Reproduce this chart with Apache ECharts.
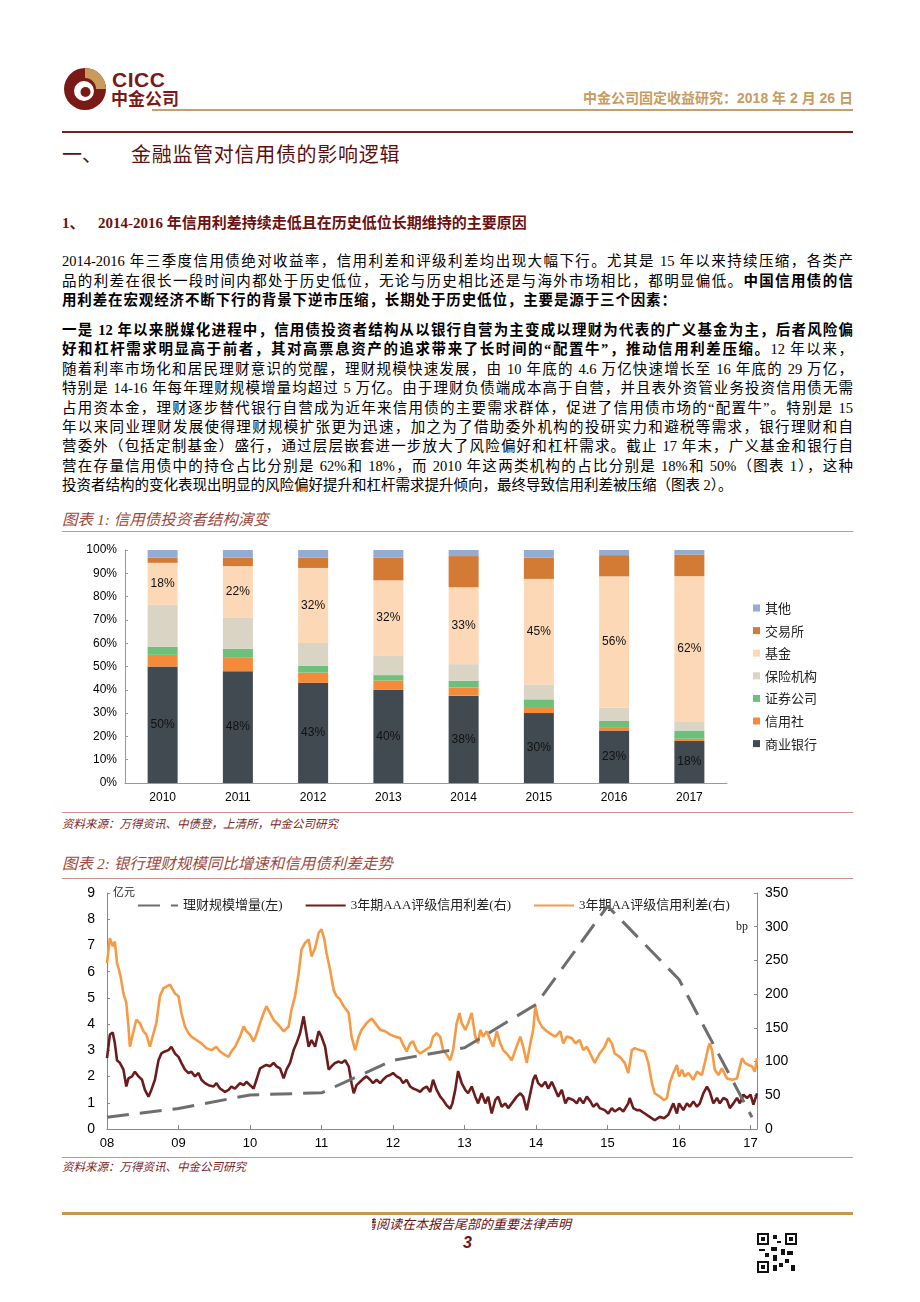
<!DOCTYPE html>
<html><head><meta charset="utf-8">
<script src="https://cdn.jsdelivr.net/npm/echarts@6/dist/echarts.min.js"></script>
<style>
body{margin:0;background:#fff;width:920px;height:1302px;position:relative;overflow:hidden;font-family:"Liberation Serif","Noto Sans CJK SC",serif;}
.abs{position:absolute;}
.ln{position:absolute;left:62px;width:791px;height:20px;line-height:20px;font-size:14.5px;color:#000;text-align:justify;text-align-last:justify;}
.ln.last{text-align-last:left;}
.ln b{font-weight:bold;}
.rule{position:absolute;left:62px;width:791px;height:0;}
.ttl{position:absolute;left:62px;font-style:italic;font-size:15.5px;color:#9a4a3c;font-family:"Liberation Serif","Noto Sans CJK SC",serif;}
.src{position:absolute;left:62px;font-style:italic;font-size:11.5px;color:#7a2626;}
</style></head>
<body>
<!-- header -->
<svg class="abs" style="left:63px;top:66px" width="46" height="46" viewBox="0 0 46 46">
  <circle cx="22" cy="23" r="21" fill="#7a1a16"/>
  <path d="M22 2 A21 21 0 0 1 43 23 L33 23 A11 11 0 0 0 22 12 Z" fill="#c99a5a"/>
  <circle cx="21" cy="25" r="10" fill="#fff"/>
  <circle cx="22.5" cy="26" r="5" fill="#7a1a16"/>
</svg>
<div class="abs" style="left:112px;top:68px;font-family:'Liberation Sans',sans-serif;font-weight:bold;font-size:21px;color:#7a1a16;letter-spacing:0.5px">CICC</div>
<div class="abs" style="left:111px;top:88px;font-family:'Noto Sans CJK SC';font-weight:bold;font-size:17px;line-height:20px;color:#7a1a16">中金公司</div>
<div class="abs" style="right:67px;top:88px;font-family:'Liberation Sans','Noto Sans CJK SC';font-weight:bold;font-size:14px;line-height:20px;color:#c79a5e">中金公司固定收益研究：2018 年 2 月 26 日</div>
<div class="abs" style="left:152px;top:109px;width:701px;height:2px;background:#c9a064"></div>
<div class="abs" style="left:62px;top:131px;width:791px;height:2px;background:#7a1f1c"></div>
<div class="abs" style="left:62px;top:141px;font-family:'Noto Sans CJK SC';font-size:20px;line-height:26px;color:#5a1010">一、</div>
<div class="abs" style="left:131px;top:141px;font-family:'Noto Sans CJK SC';font-size:20px;line-height:26px;color:#5a1010;letter-spacing:0.7px">金融监管对信用债的影响逻辑</div>
<div class="abs" style="left:62px;top:213px;font-weight:bold;font-size:15px;line-height:20px;color:#6b1111">1、</div>
<div class="abs" style="left:98px;top:213px;font-weight:bold;font-size:15px;line-height:20px;color:#6b1111">2014-2016 年信用利差持续走低且在历史低位长期维持的主要原因</div>

<!-- paragraph 1 -->
<div class="ln" style="top:251px">2014-2016 年三季度信用债绝对收益率，信用利差和评级利差均出现大幅下行。尤其是 15 年以来持续压缩，各类产</div>
<div class="ln" style="top:270.5px">品的利差在很长一段时间内都处于历史低位，无论与历史相比还是与海外市场相比，都明显偏低。<b>中国信用债的信</b></div>
<div class="ln" style="top:290px;width:614px"><b>用利差在宏观经济不断下行的背景下逆市压缩，长期处于历史低位，主要是源于三个因素：</b></div>

<!-- paragraph 2 -->
<div class="ln" style="top:320px"><b>一是 12 年以来脱媒化进程中，信用债投资者结构从以银行自营为主变成以理财为代表的广义基金为主，后者风险偏</b></div>
<div class="ln" style="top:339.4px"><b>好和杠杆需求明显高于前者，其对高票息资产的追求带来了长时间的“配置牛”，推动信用利差压缩。</b>12 年以来，</div>
<div class="ln" style="top:358.8px">随着利率市场化和居民理财意识的觉醒，理财规模快速发展，由 10 年底的 4.6 万亿快速增长至 16 年底的 29 万亿，</div>
<div class="ln" style="top:378.2px">特别是 14-16 年每年理财规模增量均超过 5 万亿。由于理财负债端成本高于自营，并且表外资管业务投资信用债无需</div>
<div class="ln" style="top:397.6px">占用资本金，理财逐步替代银行自营成为近年来信用债的主要需求群体，促进了信用债市场的“配置牛”。特别是 15</div>
<div class="ln" style="top:417px">年以来同业理财发展使得理财规模扩张更为迅速，加之为了借助委外机构的投研实力和避税等需求，银行理财和自</div>
<div class="ln" style="top:436.4px">营委外（包括定制基金）盛行，通过层层嵌套进一步放大了风险偏好和杠杆需求。截止 17 年末，广义基金和银行自</div>
<div class="ln" style="top:455.8px">营在存量信用债中的持仓占比分别是 62%和 18%，而 2010 年这两类机构的占比分别是 18%和 50%（图表 1），这种</div>
<div class="ln last" style="top:475.2px">投资者结构的变化表现出明显的风险偏好提升和杠杆需求提升倾向，最终导致信用利差被压缩（图表 2）。</div>

<!-- chart 1 frame -->
<div class="ttl" style="top:509px;line-height:22px">图表 1: 信用债投资者结构演变</div>
<div class="rule" style="top:531px;border-top:1px solid #c89288"></div>
<div id="c1" class="abs" style="left:62px;top:540px;width:800px;height:270px"></div>
<div class="rule" style="top:812px;border-top:1px solid #c89288"></div>
<div class="src" style="top:816px;line-height:16px">资料来源：万得资讯、中债登，上清所，中金公司研究</div>

<!-- chart 2 frame -->
<div class="ttl" style="top:853px;line-height:22px">图表 2: 银行理财规模同比增速和信用债利差走势</div>
<div class="rule" style="top:878px;border-top:1px solid #c89288"></div>
<div id="c2" class="abs" style="left:62px;top:880px;width:800px;height:274px"></div>
<div class="rule" style="top:1157px;border-top:1px solid #c89288"></div>
<div class="src" style="top:1159px;line-height:16px">资料来源：万得资讯、中金公司研究</div>

<!-- footer -->
<div class="abs" style="left:62px;top:1212px;width:791px;height:3px;background:#c9964e"></div>
<div class="abs" style="left:372px;top:1217px;font-style:italic;font-size:13px;line-height:16px;color:#6b1111;white-space:nowrap"><span style="display:inline-block;width:4px;overflow:hidden;vertical-align:top"><span style="display:inline-block;margin-left:-9px">请</span></span>阅读在本报告尾部的重要法律声明</div>
<div class="abs" style="left:463px;top:1233px;font-family:'Liberation Sans';font-style:italic;font-weight:bold;font-size:16px;line-height:20px;color:#6b1111">3</div>
<svg class="abs" style="left:757px;top:1233px" width="40" height="40" viewBox="0 0 20 20">
  <rect width="20" height="20" fill="#fff"/>
  <g fill="#111">
    <rect x="0" y="0" width="6" height="6"/><rect x="14" y="0" width="6" height="6"/><rect x="0" y="14" width="6" height="6"/>
  </g>
  <g fill="#fff">
    <rect x="1" y="1" width="4" height="4"/><rect x="15" y="1" width="4" height="4"/><rect x="1" y="15" width="4" height="4"/>
  </g>
  <g fill="#111">
    <rect x="2" y="2" width="2" height="2"/><rect x="16" y="2" width="2" height="2"/><rect x="2" y="16" width="2" height="2"/>
    <rect x="8" y="1" width="2" height="2"/><rect x="10" y="4" width="2" height="1"/><rect x="7" y="7" width="3" height="2"/>
    <rect x="12" y="8" width="2" height="3"/><rect x="1" y="8" width="3" height="1"/><rect x="4" y="10" width="2" height="2"/>
    <rect x="8" y="11" width="2" height="3"/><rect x="15" y="9" width="3" height="2"/><rect x="11" y="15" width="2" height="2"/>
    <rect x="14" y="13" width="2" height="2"/><rect x="17" y="16" width="2" height="3"/><rect x="8" y="16" width="2" height="3"/>
  </g>
</svg>

<script>
// ---------- Chart 1 data ----------
const years1 = ['2010','2011','2012','2013','2014','2015','2016','2017'];
const bank       = [50, 48, 43, 40, 37.5, 30, 22.5, 18];
const creditCoop = [5, 6, 4.4, 4, 3.5, 2.6, 1.5, 1];
const securities = [3.5, 3.6, 2.9, 2.3, 2.9, 3.3, 2.6, 3.5];
const insurance  = [18, 13.5, 9.8, 8.5, 7.1, 6.4, 5.8, 4];
const funds      = [18, 22, 32.2, 32.2, 33, 45.3, 56.3, 62.3];
const exchange   = [2.3, 3.6, 4.5, 9.8, 13.4, 9.2, 9.1, 9.3];
const others     = [3.2, 3.3, 3.2, 3.2, 2.6, 3.2, 2.2, 1.9];
const names1 = ['商业银行','信用社','证券公司','保险机构','基金','交易所','其他'];

// ---------- Chart 2 data ----------
const xTicks2 = ['08','09','10','11','12','13','14','15','16','17'];
const wmpIncrease = [[2008,0.45],[2009,0.78],[2010,1.3],[2011,1.38],[2012,2.62],[2013,3.1],[2014,4.75],[2015,8.5],[2016,5.7],[2017.02,0.45]];
const aaaSpread = [[2008.00,105],[2008.04,140],[2008.08,143],[2008.11,127],[2008.14,102],[2008.18,98],[2008.23,88],[2008.27,63],[2008.30,75],[2008.35,78],[2008.39,85],[2008.44,78],[2008.49,73],[2008.53,58],[2008.58,48],[2008.62,58],[2008.67,73],[2008.72,102],[2008.76,112],[2008.81,115],[2008.86,117],[2008.90,122],[2008.95,112],[2009.00,107],[2009.04,98],[2009.09,88],[2009.14,83],[2009.18,85],[2009.23,78],[2009.28,83],[2009.32,73],[2009.37,68],[2009.42,65],[2009.49,63],[2009.53,68],[2009.58,60],[2009.65,55],[2009.70,58],[2009.74,63],[2009.79,60],[2009.86,68],[2009.91,65],[2009.95,70],[2010.00,65],[2010.05,60],[2010.09,73],[2010.14,90],[2010.19,93],[2010.23,95],[2010.28,93],[2010.33,98],[2010.37,93],[2010.42,90],[2010.47,75],[2010.51,88],[2010.56,98],[2010.61,117],[2010.65,127],[2010.70,142],[2010.75,167],[2010.78,147],[2010.82,122],[2010.86,132],[2010.91,122],[2010.96,145],[2011.00,137],[2011.05,122],[2011.10,88],[2011.14,93],[2011.19,98],[2011.24,100],[2011.28,98],[2011.33,102],[2011.38,93],[2011.42,68],[2011.45,53],[2011.49,65],[2011.54,70],[2011.59,75],[2011.63,78],[2011.68,73],[2011.72,68],[2011.77,73],[2011.82,68],[2011.86,73],[2011.91,78],[2011.96,80],[2012.00,83],[2012.05,78],[2012.10,75],[2012.14,68],[2012.19,73],[2012.24,63],[2012.28,60],[2012.33,58],[2012.38,55],[2012.42,60],[2012.47,63],[2012.52,55],[2012.56,73],[2012.61,58],[2012.66,48],[2012.70,43],[2012.75,35],[2012.80,30],[2012.83,38],[2012.87,58],[2012.91,86],[2012.96,68],[2013.01,58],[2013.05,53],[2013.10,63],[2013.15,48],[2013.19,38],[2013.24,53],[2013.29,38],[2013.33,48],[2013.38,23],[2013.43,43],[2013.47,48],[2013.52,33],[2013.57,38],[2013.61,31],[2013.66,38],[2013.73,48],[2013.78,53],[2013.82,48],[2013.87,28],[2013.92,53],[2013.96,73],[2013.99,80],[2014.03,68],[2014.08,63],[2014.13,70],[2014.17,60],[2014.22,70],[2014.27,58],[2014.31,48],[2014.36,58],[2014.41,38],[2014.45,46],[2014.52,43],[2014.57,38],[2014.61,46],[2014.66,38],[2014.71,48],[2014.76,41],[2014.80,33],[2014.85,38],[2014.89,31],[2014.96,28],[2015.01,23],[2015.06,31],[2015.10,26],[2015.17,31],[2015.22,26],[2015.29,38],[2015.31,46],[2015.36,31],[2015.41,28],[2015.45,28],[2015.52,23],[2015.59,18],[2015.66,13],[2015.73,18],[2015.79,16],[2015.85,21],[2015.92,38],[2015.97,23],[2016.00,38],[2016.06,28],[2016.11,38],[2016.15,33],[2016.20,41],[2016.25,33],[2016.29,38],[2016.34,53],[2016.39,63],[2016.43,55],[2016.48,38],[2016.53,46],[2016.57,38],[2016.62,46],[2016.67,43],[2016.71,31],[2016.76,38],[2016.81,46],[2016.85,38],[2016.90,51],[2016.95,46],[2017.00,51],[2017.04,36],[2017.09,53]];
const aaSpread = [[2008.00,246],[2008.04,283],[2008.08,271],[2008.11,278],[2008.14,246],[2008.16,239],[2008.19,226],[2008.23,201],[2008.27,187],[2008.30,152],[2008.32,122],[2008.37,145],[2008.41,162],[2008.46,157],[2008.51,145],[2008.55,140],[2008.60,122],[2008.65,142],[2008.69,157],[2008.74,197],[2008.79,209],[2008.83,211],[2008.88,214],[2008.90,216],[2008.95,201],[2009.00,197],[2009.04,172],[2009.09,152],[2009.14,142],[2009.18,137],[2009.25,132],[2009.32,127],[2009.39,120],[2009.46,117],[2009.53,122],[2009.58,115],[2009.65,110],[2009.70,107],[2009.74,115],[2009.79,122],[2009.86,137],[2009.91,152],[2009.95,145],[2010.00,140],[2010.05,130],[2010.09,140],[2010.14,157],[2010.19,172],[2010.23,182],[2010.28,172],[2010.33,162],[2010.40,154],[2010.47,145],[2010.54,152],[2010.58,177],[2010.63,197],[2010.68,231],[2010.72,266],[2010.77,276],[2010.82,281],[2010.86,256],[2010.91,268],[2010.96,291],[2011.00,296],[2011.04,281],[2011.07,261],[2011.12,236],[2011.17,206],[2011.21,197],[2011.26,192],[2011.31,182],[2011.38,172],[2011.42,137],[2011.47,117],[2011.52,137],[2011.56,147],[2011.63,157],[2011.70,164],[2011.75,157],[2011.82,147],[2011.89,145],[2011.96,140],[2012.03,137],[2012.10,135],[2012.14,125],[2012.19,115],[2012.24,127],[2012.28,130],[2012.33,117],[2012.38,112],[2012.45,117],[2012.52,122],[2012.56,137],[2012.61,142],[2012.66,137],[2012.70,117],[2012.75,110],[2012.80,102],[2012.84,117],[2012.89,157],[2012.93,172],[2012.96,157],[2013.01,147],[2013.05,157],[2013.10,172],[2013.15,137],[2013.19,127],[2013.22,147],[2013.26,137],[2013.31,145],[2013.36,132],[2013.40,122],[2013.45,145],[2013.50,127],[2013.54,117],[2013.59,112],[2013.66,102],[2013.71,117],[2013.78,137],[2013.82,122],[2013.87,98],[2013.92,127],[2013.96,147],[2013.99,182],[2014.03,162],[2014.08,152],[2014.15,145],[2014.22,140],[2014.27,137],[2014.34,145],[2014.38,127],[2014.43,137],[2014.50,135],[2014.55,127],[2014.61,132],[2014.66,117],[2014.71,122],[2014.78,107],[2014.82,98],[2014.89,112],[2014.96,122],[2015.01,135],[2015.06,127],[2015.10,112],[2015.17,107],[2015.24,98],[2015.29,83],[2015.34,117],[2015.38,120],[2015.45,117],[2015.52,115],[2015.57,98],[2015.62,68],[2015.66,53],[2015.73,48],[2015.79,43],[2015.83,46],[2015.87,68],[2015.92,83],[2015.97,95],[2016.00,78],[2016.04,88],[2016.08,78],[2016.13,83],[2016.20,73],[2016.25,85],[2016.32,80],[2016.36,98],[2016.41,122],[2016.43,127],[2016.46,117],[2016.50,88],[2016.55,80],[2016.60,90],[2016.67,75],[2016.74,73],[2016.81,75],[2016.88,105],[2016.92,98],[2016.97,95],[2017.02,93],[2017.06,85],[2017.09,105]];
const names2 = ['理财规模增量(左)','3年期AAA评级信用利差(右)','3年期AA评级信用利差(右)'];

const SANS = '"Liberation Sans", Arial, sans-serif';
const CJK = '"Liberation Serif", "Noto Sans CJK SC", serif';

// ---------- Chart 1 ----------
const c1 = echarts.init(document.getElementById('c1'));
const stackVals = [bank, creditCoop, securities, insurance, funds, exchange, others];
const colors1 = ['#404a50','#f58a3a','#6cc07a','#d9d4c3','#fcd8b6','#d37a35','#93acd5'];
const labelled = [true,false,false,false,true,false,false];
c1.setOption({
  animation:false,
  grid:{left:63, top:10, width:602, height:233},
  legend:{
    orient:'vertical', left:686, top:55,
    data:['其他','交易所','基金','保险机构','证券公司','信用社','商业银行'],
    icon:'rect', itemWidth:7, itemHeight:7, itemGap:6.6,
    textStyle:{fontFamily:'"Noto Sans CJK SC"', fontSize:13, color:'#222', lineHeight:16}
  },
  xAxis:{type:'category', data:years1,
    axisLine:{lineStyle:{color:'#999'}},
    axisTick:{inside:true, length:4, lineStyle:{color:'#999'}},
    axisLabel:{color:'#000', fontFamily:SANS, fontSize:12, margin:9}},
  yAxis:{type:'value', min:0, max:100, interval:10,
    axisLine:{show:true, lineStyle:{color:'#999'}},
    axisTick:{show:true, inside:true, length:3, lineStyle:{color:'#999'}},
    splitLine:{show:false},
    axisLabel:{formatter:'{value}%', color:'#000', fontFamily:SANS, fontSize:12, margin:8}},
  series: names1.map((n,i)=>({
    name:n, type:'bar', stack:'all', data:stackVals[i], barWidth:30,
    itemStyle:{color:colors1[i]},
    label:{show:labelled[i], position:'inside', color:'#111', fontFamily:SANS, fontSize:12,
      formatter:p=>Math.round(p.value)+'%'}
  }))
});

// ---------- Chart 2 ----------
const c2 = echarts.init(document.getElementById('c2'));
c2.setOption({
  animation:false,
  grid:{left:45, top:13, width:650, height:236},
  legend:{
    left:70, top:14, itemGap:22, itemWidth:40, itemHeight:4,
    data:names2,
    itemStyle:{opacity:0},
    textStyle:{fontFamily:CJK, fontSize:13, color:'#222'}
  },
  xAxis:{type:'value', min:2008, max:2017.09, interval:1,
    axisLine:{lineStyle:{color:'#888'}},
    axisTick:{inside:true, length:4, lineStyle:{color:'#888'}},
    splitLine:{show:false},
    axisLabel:{color:'#000', fontFamily:SANS, fontSize:13, margin:8, showMaxLabel:false,
      formatter:v=>{const k=Math.round(v)-2008; return (Math.abs(v-Math.round(v))<1e-6 && k>=0 && k<xTicks2.length)? xTicks2[k] : '';}}},
  yAxis:[
    {type:'value', min:0, max:9, interval:1, position:'left',
      axisLine:{show:true, lineStyle:{color:'#888'}},
      axisTick:{show:true, inside:true, length:3, lineStyle:{color:'#888'}},
      splitLine:{show:false},
      axisLabel:{color:'#000', fontFamily:SANS, fontSize:14, margin:12}},
    {type:'value', min:0, max:350, interval:50, position:'right',
      axisLine:{show:true, lineStyle:{color:'#888'}},
      axisTick:{show:true, inside:true, length:3, lineStyle:{color:'#888'}},
      splitLine:{show:false},
      axisLabel:{color:'#000', fontFamily:SANS, fontSize:14, margin:8}}
  ],
  graphic:[
    {type:'text', left:51, top:6, style:{text:'亿元', font:'11px "Noto Sans CJK SC"', fill:'#222'}},
    {type:'text', left:674, top:41, style:{text:'bp', font:'12px "Liberation Serif"', fill:'#222'}}
  ],
  series:[
    {name:names2[2], type:'line', yAxisIndex:1, data:aaSpread, symbol:'none', showSymbol:false, z:2,
      lineStyle:{color:'#f59a45', width:2.6}, itemStyle:{color:'#f59a45'}},
    {name:names2[1], type:'line', yAxisIndex:1, data:aaaSpread, symbol:'none', showSymbol:false, z:3,
      lineStyle:{color:'#6b1c1c', width:2.6}, itemStyle:{color:'#6b1c1c'}},
    {name:names2[0], type:'line', yAxisIndex:0, data:wmpIncrease, symbol:'none', showSymbol:false, z:4,
      lineStyle:{color:'#6e6e6e', width:3, type:[22,11]}, itemStyle:{color:'#6e6e6e'}}
  ]
});
</script>
</body></html>
